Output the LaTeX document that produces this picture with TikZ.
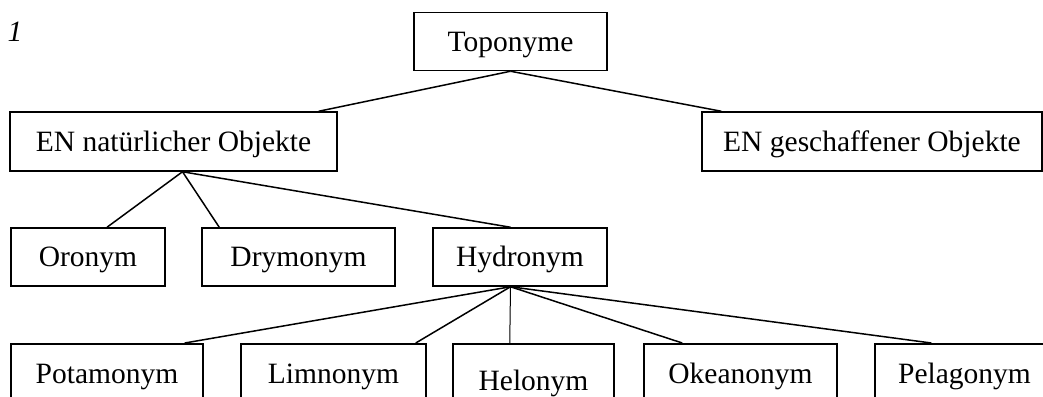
\documentclass[tikz,border=0pt]{standalone}
\usepackage{fontspec}
\setmainfont{Liberation Serif}
\begin{document}
\begin{tikzpicture}[x=1pt,y=-1pt,
  box/.style={draw, line width=1.5pt, inner sep=0pt, minimum height=58pt, text height=19.5pt, text depth=0pt, font=\fontsize{29.5}{34}\selectfont},
  lowbox/.style={box, anchor=north, minimum height=59pt},
  link/.style={line width=1.5pt}]
\useasboundingbox (0,0) rectangle (1043,396);
\clip (0,0) rectangle (1043,396);
\node[font=\fontsize{29.5}{34}\selectfont\itshape, inner sep=0pt, text height=19.5pt, text depth=0pt] (num) at (15,32) {1};
\node[box, minimum width=193pt] (top) at (510.5,41.5) {Toponyme};
\node[box, minimum width=327pt, minimum height=59pt] (enn) at (173.5,141.5) {EN natürlicher Objekte};
\node[box, minimum width=340pt, minimum height=59pt] (eng) at (872,141.5) {EN geschaffener Objekte};
\node[box, minimum width=154pt] (oro) at (88,257) {Oronym};
\node[box, minimum width=193pt] (dry) at (298.5,257) {Drymonym};
\node[box, minimum width=174pt] (hyd) at (520,257) {Hydronym};
\node[lowbox, minimum width=192pt] (pot) at (107,343) {Potamonym};
\node[lowbox, minimum width=185pt] (lim) at (333.5,343) {Limnonym};
\node[lowbox, minimum width=161pt, minimum height=73pt] (hel) at (533.5,343) {Helonym};
\node[lowbox, minimum width=193pt] (oke) at (740.5,343) {Okeanonym};
\node[lowbox, minimum width=179pt] (pel) at (964.5,343) {Pelagonym};
\draw[link] (top.south) -- ([xshift=-19pt]enn.north east);
\draw[link] (top.south) -- ([xshift=20pt]eng.north west);
\draw[link] ([xshift=9pt]enn.south) -- ([xshift=19pt]oro.north);
\draw[link] ([xshift=9pt]enn.south) -- ([xshift=18pt]dry.north west);
\draw[link] ([xshift=9pt]enn.south) -- ([xshift=-9.5pt]hyd.north);
\draw[link] ([xshift=-9.5pt]hyd.south) -- ([xshift=-19pt]pot.north east);
\draw[link] ([xshift=-9.5pt]hyd.south) -- ([xshift=-11pt]lim.north east);
\draw[line width=1pt] ([xshift=-9.5pt]hyd.south) -- ([xshift=57.5pt]hel.north west);
\draw[link] ([xshift=-9.5pt]hyd.south) -- ([xshift=39pt]oke.north west);
\draw[link] ([xshift=-9.5pt]hyd.south) -- ([xshift=57pt]pel.north west);
\end{tikzpicture}
\end{document}
